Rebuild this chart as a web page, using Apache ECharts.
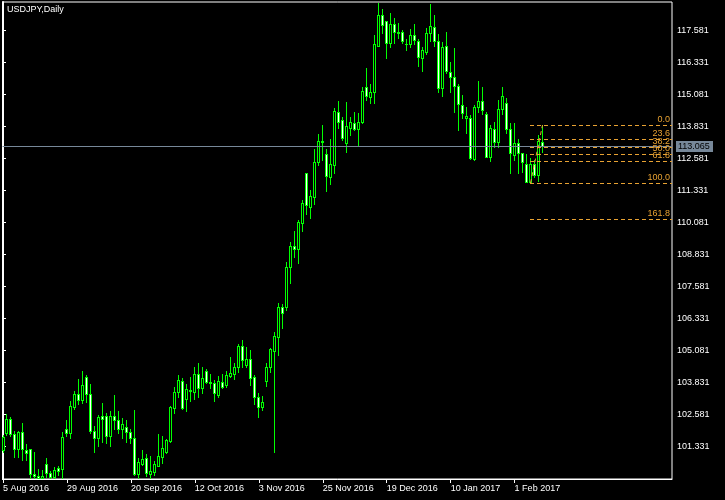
<!DOCTYPE html>
<html>
<head>
<meta charset="utf-8">
<script src="https://cdn.jsdelivr.net/npm/echarts@6/dist/echarts.min.js"></script>
<style>
html,body{margin:0;padding:0;background:#000;}
#chart{width:725px;height:500px;}
</style>
</head>
<body>
<div id="chart"></div>
<script>
// ---- data (USDJPY daily, 5 Aug 2016 .. 10 Feb 2017) ----
const opens = [
101.20,101.88,102.40,101.82,101.23,101.89,101.20,101.23,100.25,100.20,
100.09,100.64,100.29,100.16,100.50,100.45,102.04,101.86,102.90,103.39,
103.14,104.04,103.38,101.96,101.69,102.52,102.52,101.76,102.52,102.36,
102.01,102.09,101.89,101.66,100.26,100.66,100.90,100.25,100.36,100.59,
100.94,101.14,101.57,102.83,103.45,103.90,103.18,103.55,103.45,104.16,
103.64,104.29,103.85,103.81,103.35,103.87,103.74,104.11,104.16,104.43,
105.27,104.52,104.74,104.04,103.29,102.90,103.91,104.43,105.08,105.60,
106.78,106.80,108.36,109.17,109.04,110.08,112.01,110.71,111.10,112.46,
113.27,112.76,111.88,112.33,114.39,114.09,113.18,113.79,113.96,113.73,
114.00,115.37,115.00,115.17,117.00,118.19,117.96,117.09,117.84,117.54,
117.52,117.07,117.05,117.41,117.18,116.50,116.76,117.48,117.71,117.19,
115.33,117.00,115.98,115.76,115.42,114.68,114.16,114.16,112.57,114.61,
114.83,114.33,112.66,113.74,113.25,114.51,114.74,113.73,112.73,113.21,
112.79,112.36,111.68,112.36,111.94,113.25];
const highs = [
101.79,102.61,102.48,101.95,101.95,102.25,101.43,101.25,101.13,100.45,
100.42,100.89,100.40,100.55,100.58,101.91,102.38,103.11,103.51,103.98,
104.29,104.13,103.78,102.12,102.57,103.04,102.65,102.73,103.35,102.73,
102.47,102.37,102.01,102.76,100.88,101.20,101.03,100.98,100.79,101.83,
101.75,101.63,102.92,103.65,104.13,104.00,103.78,104.07,104.43,104.61,
104.43,104.35,104.17,103.94,104.09,104.16,104.29,104.85,104.61,105.34,
105.50,105.21,105.11,104.13,103.42,103.31,104.59,105.20,105.83,106.93,
106.89,108.53,109.34,109.76,110.19,110.97,112.01,111.36,112.96,113.55,
113.90,112.95,113.34,114.55,114.83,114.20,114.81,114.22,114.39,114.35,
115.37,116.11,115.50,117.41,118.68,118.42,117.97,118.26,118.06,117.87,
117.61,117.24,117.63,117.84,117.24,116.96,117.70,118.62,118.19,117.45,
117.15,117.52,116.37,116.89,115.50,115.07,114.61,114.29,114.68,115.62,
115.37,114.42,113.90,114.03,114.87,115.37,114.94,113.96,113.96,113.34,
112.82,112.76,112.60,112.53,113.51,113.90];
const lows = [
101.14,101.79,101.75,100.92,100.94,100.81,100.81,100.10,100.06,100.07,
100.07,100.16,100.10,100.07,100.23,100.07,101.75,101.67,102.81,103.00,
103.05,103.08,101.88,101.14,101.37,101.53,101.48,101.37,102.01,101.88,
101.68,101.53,101.49,100.23,100.07,100.62,100.19,100.07,100.21,100.57,
100.68,101.07,101.53,102.63,103.29,102.80,102.74,103.13,103.19,103.29,
103.44,103.81,103.64,103.13,103.29,103.61,103.68,104.07,103.98,104.26,
104.46,104.46,103.74,102.99,102.50,102.77,103.72,104.26,101.14,104.91,
105.98,106.67,107.74,108.75,108.52,109.77,110.42,110.25,110.81,112.33,
112.53,111.33,111.59,112.04,113.79,113.31,112.86,113.51,113.70,113.09,
113.96,114.87,114.74,114.77,117.00,117.48,116.53,116.96,117.11,117.28,
117.11,116.83,116.96,117.05,116.21,116.02,116.67,117.19,117.00,115.20,
115.04,115.94,115.20,114.40,113.70,114.16,113.60,112.57,112.53,114.39,
114.31,112.63,112.50,113.02,113.02,114.31,113.60,112.04,112.53,112.04,
112.06,111.66,111.62,111.88,111.72,112.86];
const closes = [
101.72,102.40,101.83,101.23,101.89,101.23,101.07,100.25,100.20,100.09,
100.19,100.29,100.16,100.41,100.40,101.70,101.86,102.91,103.39,103.17,
103.73,103.38,101.96,101.69,102.49,102.42,101.76,102.52,102.38,102.04,
102.20,101.89,101.66,100.26,100.72,100.85,100.29,100.38,100.66,100.97,
101.27,101.59,102.87,103.45,103.94,102.83,103.57,103.51,104.16,103.64,
104.00,103.85,103.83,103.42,103.90,103.65,104.13,104.20,104.43,105.27,
104.71,104.74,104.03,103.29,102.90,103.07,104.43,105.14,105.66,106.78,
106.57,108.36,109.17,109.04,110.10,110.84,110.77,111.12,112.46,113.29,
113.22,111.92,112.36,114.44,114.03,113.40,113.86,114.00,113.73,114.03,
115.23,115.03,115.17,117.05,118.19,117.80,117.09,117.84,117.54,117.51,
117.19,117.05,117.41,117.22,116.54,116.83,117.50,117.76,117.19,115.33,
116.93,116.01,115.76,115.42,114.70,114.35,114.25,112.60,114.61,114.83,
114.48,112.66,113.77,113.25,114.51,115.03,113.73,112.79,113.21,112.79,
112.46,111.68,112.36,111.94,113.27,113.065];

// x-axis tick positions (bar index) and their labels
const tickIdx = [0, 16, 32, 48, 64, 80, 96, 112, 128];
const tickLabels = ['5 Aug 2016','29 Aug 2016','20 Sep 2016','12 Oct 2016','3 Nov 2016',
                    '25 Nov 2016','19 Dec 2016','10 Jan 2017','1 Feb 2017'];
// price-axis tick labels
const priceTicks = [101.331,102.581,103.831,105.081,106.331,107.581,108.831,
                    110.081,111.331,112.581,113.831,115.081,116.331,117.581];
// current bid line
const bidPrice = 113.065;
// fibonacci retracement (anchored from bar 132 low to bar 135 high)
const fibStartIdx = 132, fibEndIdx = 135;
const fibLow = 111.62, fibHigh = 113.90;
const fibRatios = [0, 23.6, 38.2, 50.0, 61.8, 100.0, 161.8];

// ---- chart ----
const FONT = '"Liberation Sans", Arial, sans-serif';
const FONT9 = '9px "Liberation Sans", Arial, sans-serif';
const ORANGE = '#e8a232';
const GREEN = '#00ff00';
const BIDCOL = '#778899';
const X_MIN = -0.125, X_MAX = X_MIN + 670 / 4;
const Y_MIN = 100.069, Y_MAX = 118.702;

const candleData = opens.map((o, i) => [i, o, closes[i], lows[i], highs[i]]);
const fibData = fibRatios.map(r => [fibStartIdx, fibHigh - (fibHigh - fibLow) * r / 100, r]);

function renderCandle(params, api) {
  const i = api.value(0), o = api.value(1), c = api.value(2), l = api.value(3), h = api.value(4);
  const pO = api.coord([i, o]), pC = api.coord([i, c]);
  const pL = api.coord([i, l]), pH = api.coord([i, h]);
  const x = Math.floor(pO[0]);
  const yTop = Math.round(Math.min(pO[1], pC[1]));
  const yBot = Math.round(Math.max(pO[1], pC[1]));
  const yH = Math.round(pH[1]), yL = Math.round(pL[1]);
  const children = [
    { type: 'rect', shape: { x: x, y: yH, width: 1, height: Math.max(1, yL - yH + 1) }, style: { fill: GREEN } },
    { type: 'rect', shape: { x: x - 1, y: yTop, width: 3, height: Math.max(1, yBot - yTop + 1) }, style: { fill: GREEN } }
  ];
  if (yBot - yTop > 1) {
    children.push({ type: 'rect', shape: { x: x, y: yTop + 1, width: 1, height: yBot - yTop - 1 },
      style: { fill: c >= o ? '#000' : '#fff' } });
  }
  return { type: 'group', children: children };
}

function dashRects(x1, x2, y) {
  const out = [];
  for (let x = x1; x < x2; x += 7) {
    out.push({ type: 'rect', shape: { x: x, y: y, width: Math.min(4, x2 - x), height: 1 }, style: { fill: ORANGE } });
  }
  return out;
}

function renderFib(params, api) {
  const lvl = api.value(1), r = api.value(2);
  const p1 = api.coord([api.value(0), lvl]);
  const p2 = api.coord([X_MAX, lvl]);
  const y = Math.round(p1[1]);
  const children = dashRects(Math.floor(p1[0]), p2[0], y);
  children.push({ type: 'text', style: { text: r.toFixed(1), x: p2[0] - 2, y: y - 1,
    align: 'right', verticalAlign: 'bottom', fill: ORANGE, font: FONT9 } });
  return { type: 'group', children: children };
}

function renderFibBase(params, api) {
  const a = api.coord([api.value(0), api.value(1)]);
  const b = api.coord([api.value(2), api.value(3)]);
  return { type: 'line', shape: { x1: Math.floor(a[0]) + 0.5, y1: Math.round(a[1]), x2: Math.floor(b[0]) + 0.5, y2: Math.round(b[1]) },
    style: { stroke: ORANGE, lineWidth: 1, lineDash: [4, 3] } };
}

function renderBid(params, api) {
  const v = api.value(1);
  const p1 = api.coord([X_MIN, v]);
  const p2 = api.coord([X_MAX, v]);
  const y = Math.round(p1[1]) + 0.5;
  return {
    type: 'group',
    children: [
      { type: 'line', shape: { x1: p1[0], y1: y, x2: p2[0], y2: y }, style: { stroke: BIDCOL, lineWidth: 1 } },
      { type: 'rect', shape: { x: p2[0] + 4, y: y - 5.5, width: 37, height: 11 }, style: { fill: BIDCOL } },
      { type: 'text', style: { text: v.toFixed(3), x: p2[0] + 6, y: y, align: 'left', verticalAlign: 'middle',
        fill: '#000', font: FONT9 } }
    ]
  };
}

const chart = echarts.init(document.getElementById('chart'), null, { renderer: 'canvas' });
chart.setOption({
  backgroundColor: '#000',
  animation: false,
  title: {
    text: 'USDJPY,Daily', left: 7, top: 5, padding: 0,
    textStyle: { color: '#fff', fontSize: 9, fontWeight: 'normal', fontFamily: FONT }
  },
  grid: {
    left: 2, top: 2, right: 53, bottom: 21,
    show: true, borderColor: '#fff', borderWidth: 1, backgroundColor: '#000'
  },
  xAxis: {
    type: 'value', min: X_MIN, max: X_MAX,
    axisLine: { show: true, lineStyle: { color: '#fff', width: 1 } },
    axisTick: { show: true, length: 4, lineStyle: { color: '#fff' }, customValues: tickIdx },
    axisLabel: {
      show: true, color: '#fff', fontSize: 9, fontFamily: FONT, align: 'left', margin: 5,
      customValues: tickIdx,
      formatter: v => tickLabels[tickIdx.indexOf(Math.round(v))] || ''
    },
    splitLine: { show: false }
  },
  yAxis: {
    type: 'value', position: 'right', min: Y_MIN, max: Y_MAX,
    axisLine: { show: true, lineStyle: { color: '#fff', width: 2 } },
    axisTick: { show: true, length: 3, lineStyle: { color: '#fff' }, customValues: priceTicks },
    axisLabel: {
      show: true, color: '#fff', fontSize: 9, fontFamily: FONT, margin: 5,
      customValues: priceTicks,
      formatter: v => v.toFixed(3)
    },
    splitLine: { show: false }
  },
  series: [
    {
      type: 'custom', name: 'USDJPY', renderItem: renderCandle, clip: true, silent: true,
      encode: { x: 0, y: [1, 2, 3, 4] },
      data: candleData
    },
    {
      type: 'custom', name: 'bid', renderItem: renderBid, clip: false, silent: true, z: 5,
      encode: { x: 0, y: 1 },
      data: [[X_MIN, bidPrice]]
    },
    {
      type: 'custom', name: 'fibo', renderItem: renderFib, clip: false, silent: true, z: 6,
      encode: { x: 0, y: 1 },
      data: fibData
    },
    {
      type: 'custom', name: 'fiboBase', renderItem: renderFibBase, clip: false, silent: true, z: 6,
      encode: { x: [0, 2], y: [1, 3] },
      data: [[fibStartIdx, fibLow, fibEndIdx, fibHigh]]
    }
  ]
});
</script>
</body>
</html>
